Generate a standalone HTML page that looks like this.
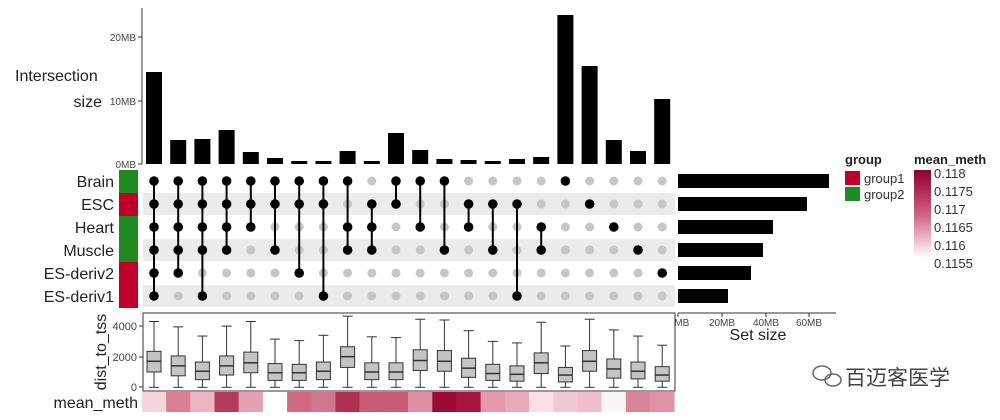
<!DOCTYPE html>
<html><head><meta charset="utf-8"><style>
body{margin:0;background:#fff}
svg{display:block;font-family:"Liberation Sans","Noto Sans CJK SC",sans-serif}
</style></head><body>
<svg width="1000" height="420" viewBox="0 0 1000 420" xmlns="http://www.w3.org/2000/svg">
<rect width="1000" height="420" fill="#fff"/>
<!-- top bars -->
<g id="bars" fill="#000"></g>
<line x1="142" y1="8" x2="142" y2="164" stroke="#333" stroke-width="1"/>
<g stroke="#333"><line x1="138" y1="164" x2="142" y2="164"/><line x1="138" y1="101" x2="142" y2="101"/><line x1="138" y1="37" x2="142" y2="37"/></g>
<g font-size="10" fill="#444" text-anchor="end"><text x="136" y="41">20MB</text><text x="136" y="105">10MB</text><text x="136" y="168">0MB</text></g>
<text x="15" y="81" font-size="16" fill="#222">Intersection</text>
<text x="102" y="107" font-size="16" fill="#222" text-anchor="end">size</text>
<!-- matrix -->
<g fill="#ebebeb"><rect x="143" y="193" width="532" height="22"/><rect x="143" y="239" width="532" height="22"/><rect x="143" y="285" width="532" height="22"/></g>
<g>
<rect x="119" y="170" width="19" height="23" fill="#1f8a1f"/>
<rect x="119" y="193" width="19" height="23" fill="#c0002b"/>
<rect x="119" y="216" width="19" height="23" fill="#1f8a1f"/>
<rect x="119" y="239" width="19" height="23" fill="#1f8a1f"/>
<rect x="119" y="262" width="19" height="23" fill="#c0002b"/>
<rect x="119" y="285" width="19" height="23" fill="#c0002b"/>
</g>
<g font-size="16" fill="#222" text-anchor="end">
<text x="114" y="187">Brain</text><text x="114" y="210">ESC</text><text x="114" y="233">Heart</text><text x="114" y="256">Muscle</text><text x="114" y="279">ES-deriv2</text><text x="114" y="302">ES-deriv1</text>
</g>
<g id="mat"></g>
<!-- set size -->
<g fill="#000">
<rect x="678" y="174" width="151" height="14"/><rect x="678" y="197" width="129" height="14"/><rect x="678" y="220" width="95" height="14"/><rect x="678" y="243" width="85" height="14"/><rect x="678" y="266" width="73" height="14"/><rect x="678" y="289" width="50" height="14"/>
</g>
<line x1="678" y1="313" x2="836" y2="313" stroke="#333"/>
<g stroke="#333"><line x1="678" y1="313" x2="678" y2="317"/><line x1="722" y1="313" x2="722" y2="317"/><line x1="766" y1="313" x2="766" y2="317"/><line x1="809" y1="313" x2="809" y2="317"/></g>
<g font-size="10" fill="#444" text-anchor="middle"><text x="679" y="326">0MB</text><text x="722" y="326">20MB</text><text x="766" y="326">40MB</text><text x="809" y="326">60MB</text></g>
<text x="758" y="340" font-size="16" fill="#222" text-anchor="middle">Set size</text>
<!-- boxplot panel -->
<rect x="143" y="313" width="532" height="78" fill="#fff" stroke="#333" stroke-width="1"/>
<g id="box"></g>
<g stroke="#333"><line x1="139" y1="326" x2="143" y2="326"/><line x1="139" y1="357" x2="143" y2="357"/><line x1="139" y1="387" x2="143" y2="387"/></g>
<g font-size="11" fill="#444" text-anchor="end"><text x="137" y="330">4000</text><text x="137" y="361">2000</text><text x="137" y="391">0</text></g>
<text transform="translate(106,352) rotate(-90)" font-size="16" fill="#222" text-anchor="middle">dist_to_tss</text>
<g id="meth"></g>
<text x="138" y="408" font-size="16" fill="#222" text-anchor="end">mean_meth</text>
<!-- legends -->
<text x="845" y="164" font-size="13" font-weight="bold" fill="#222">group</text>
<rect x="845" y="171" width="15" height="14" fill="#c0002b"/>
<rect x="845" y="187" width="15" height="14" fill="#1f8a1f"/>
<text x="864" y="183" font-size="13" fill="#333">group1</text>
<text x="864" y="199" font-size="13" fill="#333">group2</text>
<text x="914" y="164" font-size="13" font-weight="bold" fill="#222">mean_meth</text>
<defs><linearGradient id="g" x1="0" y1="0" x2="0" y2="1"><stop offset="0" stop-color="#8e0030"/><stop offset="0.5" stop-color="#d06080"/><stop offset="1" stop-color="#ffffff"/></linearGradient></defs>
<rect x="914" y="170" width="17" height="88" fill="url(#g)"/>
<g font-size="13" fill="#333"><text x="934" y="178">0.118</text><text x="934" y="196">0.1175</text><text x="934" y="214">0.117</text><text x="934" y="232">0.1165</text><text x="934" y="250">0.116</text><text x="934" y="268">0.1155</text></g>
<!-- watermark -->
<g fill="none" stroke="#666" stroke-width="1.5"><ellipse cx="822" cy="373" rx="9" ry="7"/><ellipse cx="833" cy="380" rx="8" ry="6"/></g>
<text x="845" y="385" font-size="21" fill="#444">百迈客医学</text>
</svg>
<script>
var ns="http://www.w3.org/2000/svg";
function el(p,t,a){var e=document.createElementNS(ns,t);for(var k in a)e.setAttribute(k,a[k]);p.appendChild(e);return e;}
var cx=function(i){return 154+24.2*i;};
var tops=[72,140,139,130,152,158,161,161,151,161,133,150,159,160,161,159,157,15,66,140,151,99];
var bars=document.getElementById('bars');
tops.forEach(function(t,i){el(bars,'rect',{x:cx(i)-8,y:t,width:16,height:164-t});});
var mem=[[0,1,2,3,4,5],[0,1,2,3,4],[0,1,2,3,5],[0,1,2,3],[0,1,2],[0,1,3],[0,1,4],[0,1,5],[0,2,3],[1,2,3],[0,1],[0,2],[0,3],[1,2],[1,3],[1,5],[2,3],[0],[1],[2],[3],[4]];
var ry=function(r){return 181+23*r;};
var mat=document.getElementById('mat');
mem.forEach(function(m,i){
 for(var r=0;r<6;r++){ if(m.indexOf(r)<0) el(mat,'circle',{cx:cx(i),cy:ry(r),r:4.5,fill:'#c6c6c6'});}
 if(m.length>1) el(mat,'line',{x1:cx(i),x2:cx(i),y1:ry(m[0]),y2:ry(m[m.length-1]),stroke:'#000','stroke-width':2});
 m.forEach(function(r){el(mat,'circle',{cx:cx(i),cy:ry(r),r:4.8,fill:'#000'});});
});
var bx=[[1700,1000,2350,4300],[1400,750,2050,3950],[1050,500,1650,3350],[1400,800,2050,4000],[1600,950,2300,4300],[950,450,1550,3150],[950,450,1500,3050],[1050,500,1650,3400],[2000,1300,2650,4650],[1000,500,1600,3300],[1000,500,1600,3250],[1750,1100,2450,4450],[1700,1050,2400,4400],[1250,650,1900,3700],[900,450,1500,3000],[850,400,1400,2900],[1600,900,2250,4250],[800,350,1300,2700],[1700,1050,2400,4450],[1200,600,1850,3750],[1050,550,1650,3350],[800,400,1350,2750]];
var vy=function(v){return 387.3-v*0.0153;};
var box=document.getElementById('box');
bx.forEach(function(b,i){var x=cx(i),s='#333';
 el(box,'line',{x1:x,x2:x,y1:vy(b[3]),y2:vy(0),stroke:s});
 el(box,'line',{x1:x-5,x2:x+5,y1:vy(b[3]),y2:vy(b[3]),stroke:s});
 el(box,'line',{x1:x-5,x2:x+5,y1:vy(0),y2:vy(0),stroke:s});
 el(box,'rect',{x:x-7,y:vy(b[2]),width:14,height:vy(b[1])-vy(b[2]),fill:'#c4c4c4',stroke:s});
 el(box,'line',{x1:x-7,x2:x+7,y1:vy(b[0]),y2:vy(b[0]),stroke:s,'stroke-width':1.5});
});
var mc=['#f5d5dc','#d98095','#ecb5c2','#b83a5a','#e3a0b0','#ffffff','#cf6a82','#d07890','#b03050','#c85a75','#c85a75','#dd8fa3','#9e0a35','#a81540','#e49aac','#eaa9b8','#f8e0e5','#f1c9d2','#efc0cb','#fcf5f6','#da849a','#df93a6'];
var meth=document.getElementById('meth');
mc.forEach(function(c,i){el(meth,'rect',{x:cx(i)-12.1,y:392,width:24.4,height:20,fill:c});});
</script>
</body></html>
